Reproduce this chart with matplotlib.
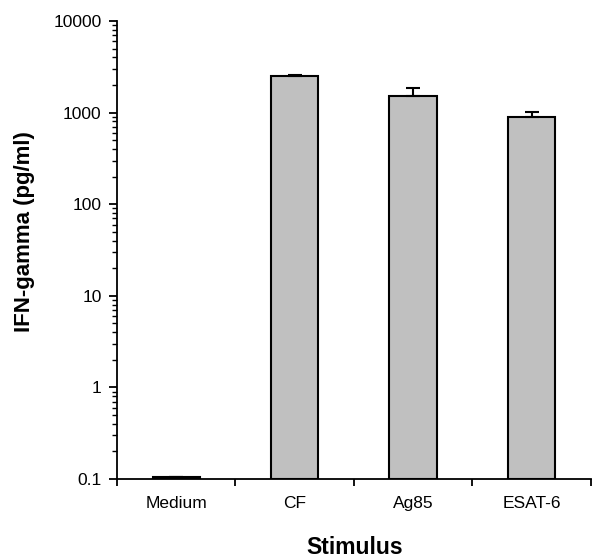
import matplotlib
matplotlib.use("Agg")
import matplotlib.pyplot as plt
from matplotlib.ticker import LogLocator, NullFormatter, FixedLocator

categories = ["Medium", "CF", "Ag85", "ESAT-6"]
values = [0.105, 2480, 1525, 906]
errors = [0, 110, 310, 110]

plt.rcParams['font.family'] = ['Liberation Sans', 'DejaVu Sans']

fig = plt.figure(figsize=(5.92, 5.59), dpi=100)
ax = fig.add_axes([0.1976, 0.1431, 0.8004, 0.8193])

x = list(range(len(categories)))
ax.bar(x, [v - 0.1 for v in values], bottom=0.1, width=0.4, color="#c0c0c0",
       edgecolor="black", linewidth=1.5, zorder=2)
ax.errorbar(x, values, yerr=[[0] * len(errors), errors], fmt="none", ecolor="black",
            elinewidth=1.5, capsize=5, capthick=1.5, zorder=3)

ax.set_yscale("log")
ax.set_ylim(0.1, 10000)
ax.set_xlim(-0.5, 3.5)
ax.yaxis.set_minor_locator(LogLocator(base=10, subs=range(2, 10), numticks=20))
ax.yaxis.set_minor_formatter(NullFormatter())
ax.set_yticks([0.1, 1, 10, 100, 1000, 10000])
ax.set_yticklabels(["0.1", "1", "10", "100", "1000", "10000"])

ax.set_xticks(x)
ax.set_xticklabels(categories)
ax.xaxis.set_minor_locator(FixedLocator([-0.5, 0.5, 1.5, 2.5, 3.5]))
ax.tick_params(axis="x", which="major", length=0, pad=12, labelsize=12.5)
ax.tick_params(axis="x", which="minor", length=5, width=1.3, direction="out")
ax.tick_params(axis="y", which="major", length=6, width=1.3, direction="out", pad=5, labelsize=12.5)
ax.tick_params(axis="y", which="minor", length=3.5, width=1.0, direction="out")

for s in ["top", "right"]:
    ax.spines[s].set_visible(False)
for s in ["left", "bottom"]:
    ax.spines[s].set_linewidth(1.3)

ax.set_ylabel("IFN-gamma (pg/ml)", fontsize=16, fontweight="bold")
ax.set_xlabel("Stimulus", fontsize=16.5, fontweight="bold", va="baseline")
ax.yaxis.set_label_coords(-0.173, 0.541)
ax.xaxis.set_label_coords(0.502, -0.1638)

fig.savefig("out.png", dpi=100)
